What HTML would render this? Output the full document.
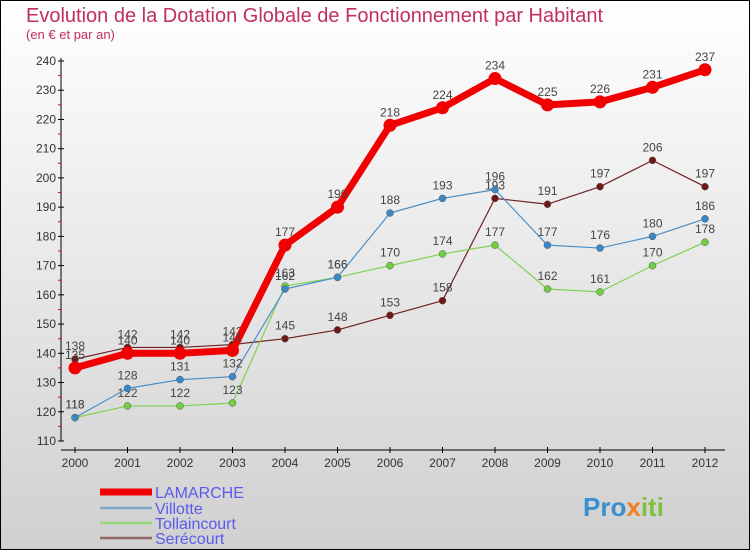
<!DOCTYPE html>
<html><head><meta charset="utf-8"><style>
body{margin:0}
svg{display:block;font-family:"Liberation Sans","DejaVu Sans",sans-serif}
</style></head><body>
<svg width="750" height="550">
<defs><linearGradient id="bg" x1="0" y1="0" x2="0" y2="1"><stop offset="0" stop-color="#ffffff"/><stop offset="1" stop-color="#d0d0d0"/></linearGradient></defs>
<rect x="0.5" y="0.5" width="749" height="549" fill="url(#bg)" stroke="#000"/>
<text x="26" y="22" font-size="20" fill="#c0305a">Evolution de la Dotation Globale de Fonctionnement par Habitant</text>
<text x="26" y="39" font-size="13" fill="#c0305a">(en € et par an)</text>
<g id="axes"></g><g id="series"></g><g id="legend"></g>
<text x="583" y="516" font-size="26" font-weight="bold" fill="#3a8fd0">Pro<tspan fill="#f08020">x</tspan><tspan fill="#80c040">iti</tspan></text>
</svg>
<script>
const years=["2000","2001","2002","2003","2004","2005","2006","2007","2008","2009","2010","2011","2012"];
const yTicks=[110,120,130,140,150,160,170,180,190,200,210,220,230,240];
const seriesNames=["LAMARCHE","Villotte","Tollaincourt","Serécourt"];
const lamarche=[135,140,140,141,177,190,218,224,234,225,226,231,237];
const villotte=[118,128,131,132,162,166,188,193,196,177,176,180,186];
const tollaincourt=[118,122,122,123,163,166,170,174,177,162,161,170,178];
const serecourt=[138,142,142,143,145,148,153,158,193,191,197,206,197];
const NS="http://www.w3.org/2000/svg";
function X(i){return 75+i*52.5;}
function Y(v){return 441-(v-110)*(380/130);}
function mk(p,t,a){const e=document.createElementNS(NS,t);for(const k in a)e.setAttribute(k,a[k]);p.appendChild(e);return e;}
const ax=document.getElementById('axes');
let l=mk(ax,'line',{x1:61,y1:58,x2:61,y2:441,stroke:'#000'});


l=mk(ax,'line',{x1:61,y1:450,x2:725,y2:450,stroke:'#000'});


yTicks.forEach((v,i)=>{
 mk(ax,'line',{x1:58,y1:Y(v),x2:64,y2:Y(v),stroke:'#000'});
 if(i<yTicks.length-1)mk(ax,'line',{x1:58,y1:Y(v+5),x2:61,y2:Y(v+5),stroke:'#e00'});
 const t=mk(ax,'text',{x:56,y:Y(v)+4,'font-size':12,'text-anchor':'end',fill:'#333'});t.textContent=v;
 
 
});
years.forEach((y,i)=>{
 mk(ax,'line',{x1:X(i),y1:447,x2:X(i),y2:453,stroke:'#000'});
 const t=mk(ax,'text',{x:X(i),y:467,'font-size':12,'text-anchor':'middle',fill:'#333'});t.textContent=y;
 
 
});
const data=[lamarche,villotte,tollaincourt,serecourt];
const cols=["#f00000","#4a90c8","#80d050","#702020"];
const dots=["#f00000","#3a88c8","#70d040","#701818"];
const widths=[7,1.2,1.2,1.2];
const order=[3,2,1,0];
const sg=document.getElementById('series');
order.forEach(s=>{
 const g=mk(sg,'g',{});
 
 
 const pts=data[s].map((v,i)=>X(i)+','+Y(v)).join(' ');
 mk(g,'polyline',{points:pts,fill:'none',stroke:cols[s],'stroke-width':widths[s],'stroke-linejoin':'round'});
 data[s].forEach((v,i)=>{
  const c=mk(g,'circle',{cx:X(i),cy:Y(v),r:s==0?6.5:3.5,fill:dots[s],stroke:s==0?'none':'#555','stroke-width':0.5});
  
  
  const t=mk(g,'text',{x:X(i),y:Y(v)-9,'font-size':12,'text-anchor':'middle',fill:'#444'});t.textContent=v;
  
  
 });
});
const lg=document.getElementById('legend');
seriesNames.forEach((n,i)=>{
 const y=[492,508,523,538][i];
 const g=mk(lg,'g',{});
 
 
 mk(g,'line',{x1:100,y1:y,x2:152,y2:y,stroke:i==0?'#f00000':['','#80a8c8','#98d878','#906868'][i],'stroke-width':i==0?7:2.5});
 const t=mk(g,'text',{x:155,y:y+6,'font-size':16,fill:'#5a5af0'});t.textContent=n;
});
</script>
</body></html>
